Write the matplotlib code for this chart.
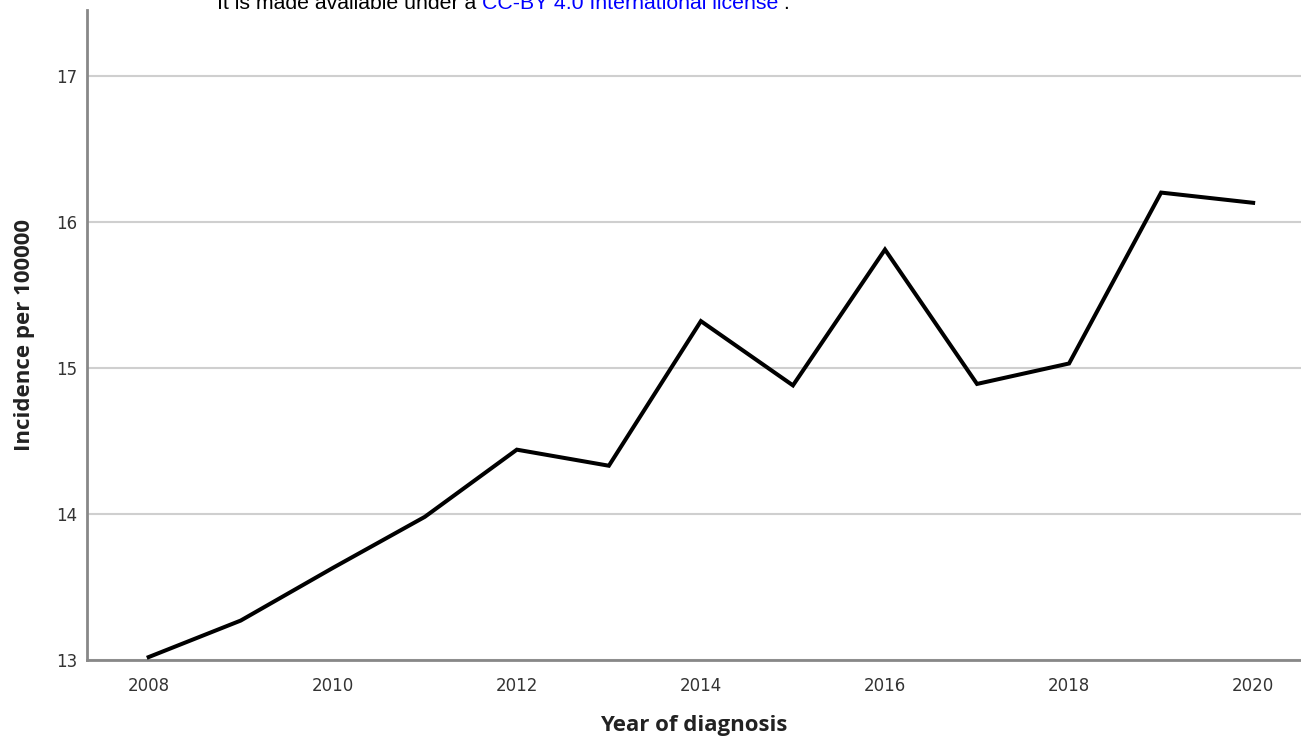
import numpy as np
import matplotlib
matplotlib.use("Agg")
import matplotlib.pyplot as plt

# incidence per 100000 by year of diagnosis
years = [2008, 2009, 2010, 2011, 2012, 2013, 2014, 2015, 2016, 2017, 2018, 2019, 2020]
incidence = [13.02, 13.27, 13.63, 13.98, 14.44, 14.33, 15.32, 14.88, 15.81, 14.89, 15.03, 16.20, 16.13]
x_ticks = [2008, 2010, 2012, 2014, 2016, 2018, 2020]
y_ticks = [13, 14, 15, 16, 17]

W, H = 1301, 748
fig = plt.figure(figsize=(W / 100, H / 100), dpi=100)
ax = fig.add_axes([87 / W, 1 - 660 / H, 1 - 87 / W, (660 - 10) / H])

ax.plot(years, incidence, color="black", lw=2.9, solid_joinstyle="miter", zorder=3)

ax.set_xlim(2007.33, 2020.52)
ax.set_ylim(13, 17.45)
ax.set_xticks(x_ticks)
ax.set_yticks(y_ticks)
ax.yaxis.grid(True, color="#cfcfcf", lw=1.5)
ax.set_axisbelow(True)

for s in ["top", "right"]:
    ax.spines[s].set_visible(False)
for s in ["left", "bottom"]:
    ax.spines[s].set_color("#888888")
    ax.spines[s].set_linewidth(2)

ax.tick_params(axis="both", length=0, labelsize=12, labelcolor="#333333")
ax.tick_params(axis="x", pad=12)
ax.tick_params(axis="y", pad=7)

lab = dict(fontsize=16, fontweight="bold", family="Open Sans", color="#222222")
ax.set_xlabel("Year of diagnosis", labelpad=15, **lab)
ax.set_ylabel("Incidence per 100000", labelpad=15, **lab)

# clipped header line from the source page
y_txt = 1 - 9 / H
kw = dict(fontsize=15.3, family="Liberation Sans", va="baseline")
r = fig.canvas.get_renderer()
t1 = fig.text(217 / W, y_txt, "It is made available under a ", color="black", **kw)
x2 = t1.get_window_extent(r).x1
t2 = fig.text(x2 / W, y_txt, "CC-BY 4.0 International license", color="blue", **kw)
x3 = t2.get_window_extent(r).x1
fig.text(x3 / W, y_txt, " .", color="black", **kw)

fig.savefig("out.png", dpi=100)
